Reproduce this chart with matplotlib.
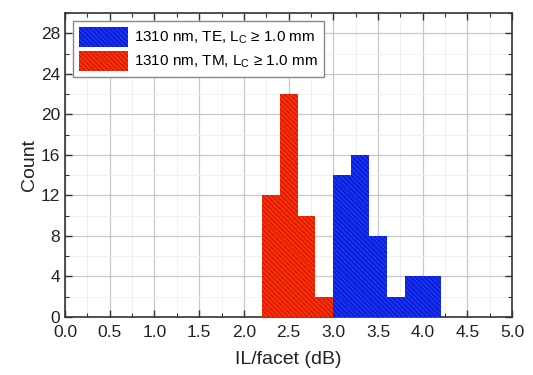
import matplotlib
matplotlib.use('Agg')
import matplotlib.pyplot as plt
from matplotlib.ticker import MultipleLocator

plt.rcParams['font.family'] = ['Liberation Sans', 'DejaVu Sans']
plt.rcParams['hatch.linewidth'] = 0.8

bin_width = 0.2
tm_edges = [2.2, 2.4, 2.6, 2.8]
tm_counts = [12, 22, 10, 2]
te_edges = [3.0, 3.2, 3.4, 3.6, 3.8, 4.0]
te_counts = [14, 16, 8, 2, 4, 4]
te_label = '1310 nm, TE, $\\mathregular{L_C}$ \u2265 1.0 mm'
tm_label = '1310 nm, TM, $\\mathregular{L_C}$ \u2265 1.0 mm'

fig = plt.figure(figsize=(5.33, 3.75), dpi=100)
ax = fig.add_axes([0.122, 0.155, 0.839, 0.81])

hatch = '\\' * 7
ax.bar(te_edges, te_counts, width=bin_width, align='edge', color='#1530ff',
       edgecolor='#0a1aa8', linewidth=0, hatch=hatch, label=te_label, zorder=3)
ax.bar(tm_edges, tm_counts, width=bin_width, align='edge', color='#ff2e08',
       edgecolor='#c01c00', linewidth=0, hatch=hatch, label=tm_label, zorder=3)

ax.set_xlim(0, 5)
ax.set_ylim(0, 30)
ax.xaxis.set_major_locator(MultipleLocator(0.5))
ax.xaxis.set_minor_locator(MultipleLocator(0.25))
ax.yaxis.set_minor_locator(MultipleLocator(2))
ax.set_yticks([0, 4, 8, 12, 16, 20, 24, 28])
ax.xaxis.set_major_formatter(matplotlib.ticker.FormatStrFormatter('%.1f'))
ax.grid(which='major', color='#c8c8c8', linewidth=0.9, zorder=0)
ax.grid(which='minor', color='#eeeeee', linewidth=0.6, zorder=0)
ax.tick_params(which='both', direction='in', top=True, right=True, labelsize=12.5,
               colors='#333333', labelcolor='#222222')
ax.tick_params(which='major', length=5, width=1)
ax.tick_params(which='minor', length=3, width=0.8)
ax.tick_params(axis='x', which='major', pad=6)
for s in ax.spines.values():
    s.set_color('#333333')
    s.set_linewidth(1.2)

ax.set_xlabel('IL/facet (dB)', fontsize=14, color='#222222', labelpad=8)
ax.set_ylabel('Count', fontsize=14, color='#222222', labelpad=2)

leg = ax.legend(loc='upper left', fontsize=11, handlelength=3.2, handleheight=1.6,
                fancybox=False, edgecolor='#888888', framealpha=1,
                borderaxespad=0.5, labelspacing=0.3, handletextpad=0.4)

fig.savefig('out.png', dpi=100)
